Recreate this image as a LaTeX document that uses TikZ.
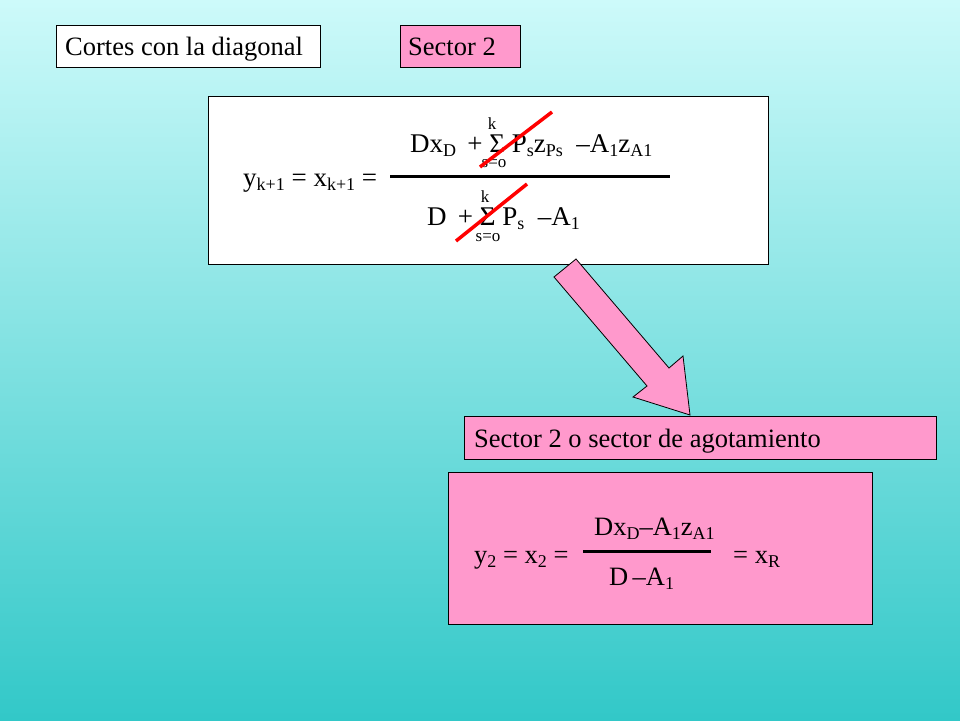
\documentclass[tikz,border=0pt]{standalone}
\usepackage{fontspec}
\setmainfont{Liberation Serif}
\definecolor{pinkc}{RGB}{255,153,204}
\definecolor{topc}{RGB}{205,250,250}
\definecolor{botc}{RGB}{50,200,200}
\newcommand{\sbx}[1]{\raisebox{-0.35ex}{\fontsize{18}{18}\selectfont #1}}
\begin{document}
\begin{tikzpicture}[x=1pt,y=-1pt,
  box/.style={draw=black,line width=0.6pt},
  lbl/.style={anchor=base west,inner sep=0pt,font=\fontsize{26.5}{28}\selectfont},
  fml/.style={anchor=base west,inner sep=0pt,font=\fontsize{27}{29}\selectfont},
  sml/.style={anchor=base,inner sep=0pt,font=\fontsize{17}{17}\selectfont},
  cross/.style={draw=red,line width=3.5pt}]
\shade[top color=topc,bottom color=botc] (0,0) rectangle (960,720);
\useasboundingbox (0,0) rectangle (960,720);
% top boxes
\draw[box,fill=white] (56,25) rectangle (320,67);
\node[lbl] (t1) at (65,55) {Cortes con la diagonal};
\draw[box,fill=pinkc] (400,25) rectangle (520,67);
\node[lbl] (t2) at (408,55) {Sector 2};
% formula box
\draw[box,fill=white] (208,96) rectangle (768,264);
\node[fml] (lhs) at (243,186) {y\sbx{k+1} = x\sbx{k+1} =};
\draw[line width=3pt] (390,176) -- (670,176);
\node[fml] (num) at (410,152) {Dx\sbx{D} \,+ Σ P\sbx{s}z\sbx{Ps} \ –A\sbx{1}z\sbx{A1}};
\node[sml] (k1) at (492,129) {k};
\node[sml] (s1) at (494,167) {s=o};
\node[fml] (den) at (427,225) {D \,+ Σ P\sbx{s} \ –A\sbx{1}};
\node[sml] (k2) at (485,202) {k};
\node[sml] (s2) at (488,241) {s=o};
\draw[cross] (480,167) -- (552,112);
\draw[cross] (456,241) -- (527,184);
% arrow
\draw[fill=pinkc,line width=0.8pt] (554,277) -- (647,386) -- (633,397) -- (690,415) -- (683,356) -- (669,368) -- (576,259) -- cycle;
% sector box
\draw[box,fill=pinkc] (464,416) rectangle (936,459);
\node[lbl] (t3) at (474,447) {Sector 2 o sector de agotamiento};
% bottom box
\draw[box,fill=pinkc] (448,472) rectangle (872,624);
\node[lbl] (l2) at (474,563) {y\sbx{2} = x\sbx{2} =};
\draw[line width=3pt] (583,551) -- (711,551);
\node[lbl] (n2) at (594,535) {Dx\sbx{D}–A\sbx{1}z\sbx{A1}};
\node[lbl] (d2) at (609,585) {D\,–A\sbx{1}};
\node[lbl] (r2) at (733,563) {= x\sbx{R}};
\end{tikzpicture}
\end{document}
